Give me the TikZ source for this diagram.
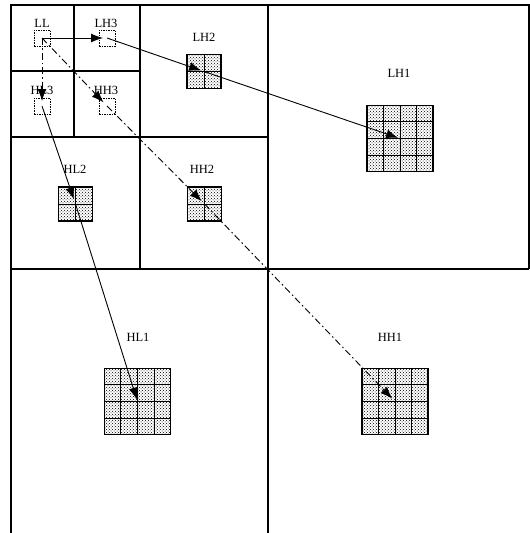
\documentclass[tikz,border=0pt]{standalone}
\usepackage{fontspec}
\setmainfont{Liberation Serif}
\usetikzlibrary{arrows.meta,patterns,calc}
\begin{document}
\begin{tikzpicture}[x=1pt,y=-1pt,
  frame/.style={line width=1.4pt},
  sub/.style={line width=1.1pt},
  lbl/.style={font=\fontsize{12.5}{14}\selectfont, inner sep=0pt},
  cellbox/.style={draw, dash pattern=on 1.5pt off 1pt, line width=0.8pt, minimum size=16pt, inner sep=0pt},
  blk/.style={draw, line width=1.3pt, fill=white, pattern=crosshatch dots, pattern color=black, inner sep=0pt},
  blktwo/.style={blk, minimum size=34pt},
  blkfour/.style={blk, minimum size=66pt},
  gridln/.style={line width=1pt},
  link/.style={line width=0.9pt, -{Latex[length=12pt,width=9pt]}},
  dashdot/.style={dash pattern=on 7pt off 3pt on 1.5pt off 3pt},
]
\useasboundingbox (0,0) rectangle (530,533);

% frame and subband boundaries
\draw[frame] (11,533) -- (11,5) -- (529,5) -- (529,269);
\draw[frame] (11,269) -- (529,269);
\draw[frame] (268,5) -- (268,533);
\draw[sub] (140,5) -- (140,269);
\draw[sub] (11,137) -- (268,137);
\draw[sub] (74,5) -- (74,137);
\draw[sub] (11,71) -- (140,71);

% level-3 coefficients
\node[cellbox] (ll)  at (42,38)  {};
\node[cellbox] (lh3) at (107,38) {};
\node[cellbox] (hl3) at (42,106) {};
\node[cellbox] (hh3) at (107,106) {};

% level-2 blocks
\node[blktwo] (lh2) at (204,71.5) {};
\node[blktwo] (hl2) at (75.5,204) {};
\node[blktwo] (hh2) at (204.5,204) {};
\foreach \b in {lh2,hl2,hh2}{
  \draw[gridln] (\b.north) -- (\b.south);
  \draw[gridln] (\b.west) -- (\b.east);
}

% level-1 blocks
\node[blkfour] (lh1) at (400,138.5) {};
\node[blkfour] (hl1) at (137.5,401.5) {};
\node[blkfour] (hh1) at (395,401.5) {};
\foreach \b in {lh1,hl1,hh1}{
  \foreach \i in {1,2,3}{
    \draw[gridln] ($(\b.north west)!\i/4!(\b.north east)$) -- ($(\b.south west)!\i/4!(\b.south east)$);
    \draw[gridln] ($(\b.north west)!\i/4!(\b.south west)$) -- ($(\b.north east)!\i/4!(\b.south east)$);
  }
}

% labels
\node[lbl] (tll)  at (42,23)  {LL};
\node[lbl] (tlh3) at (106,23) {LH3};
\node[lbl] (thl3) at (42,90)  {HL3};
\node[lbl] (thh3) at (106,90) {HH3};
\node[lbl] (tlh2) at (204,37) {LH2};
\node[lbl] (thl2) at (75,169) {HL2};
\node[lbl] (thh2) at (202,169) {HH2};
\node[lbl] (tlh1) at (399,73) {LH1};
\node[lbl] (thl1) at (138,337) {HL1};
\node[lbl] (thh1) at (390,337) {HH1};

% parent-child links
\draw[link, shorten >=4pt] (ll.center) -- (lh3.center);
\draw[link, shorten >=3pt] (lh3.center) -- (lh2.center);
\draw[link, shorten >=2pt] (lh2.center) -- (lh1.center);
\draw[link, dashdot, shorten >=5pt] (ll.center) -- (hl3.center);
\draw[link, shorten >=5pt] (hl3.center) -- (hl2.center);
\draw[link, shorten >=2pt] (hl2.center) -- (hl1.center);
\draw[link, dashdot, shorten >=5pt] (ll.center) -- (hh3.center);
\draw[link, dashdot, shorten >=4pt] (hh3.center) -- (hh2.center);
\draw[link, dashdot, shorten >=4pt] (hh2.center) -- (hh1.center);
\end{tikzpicture}
\end{document}
